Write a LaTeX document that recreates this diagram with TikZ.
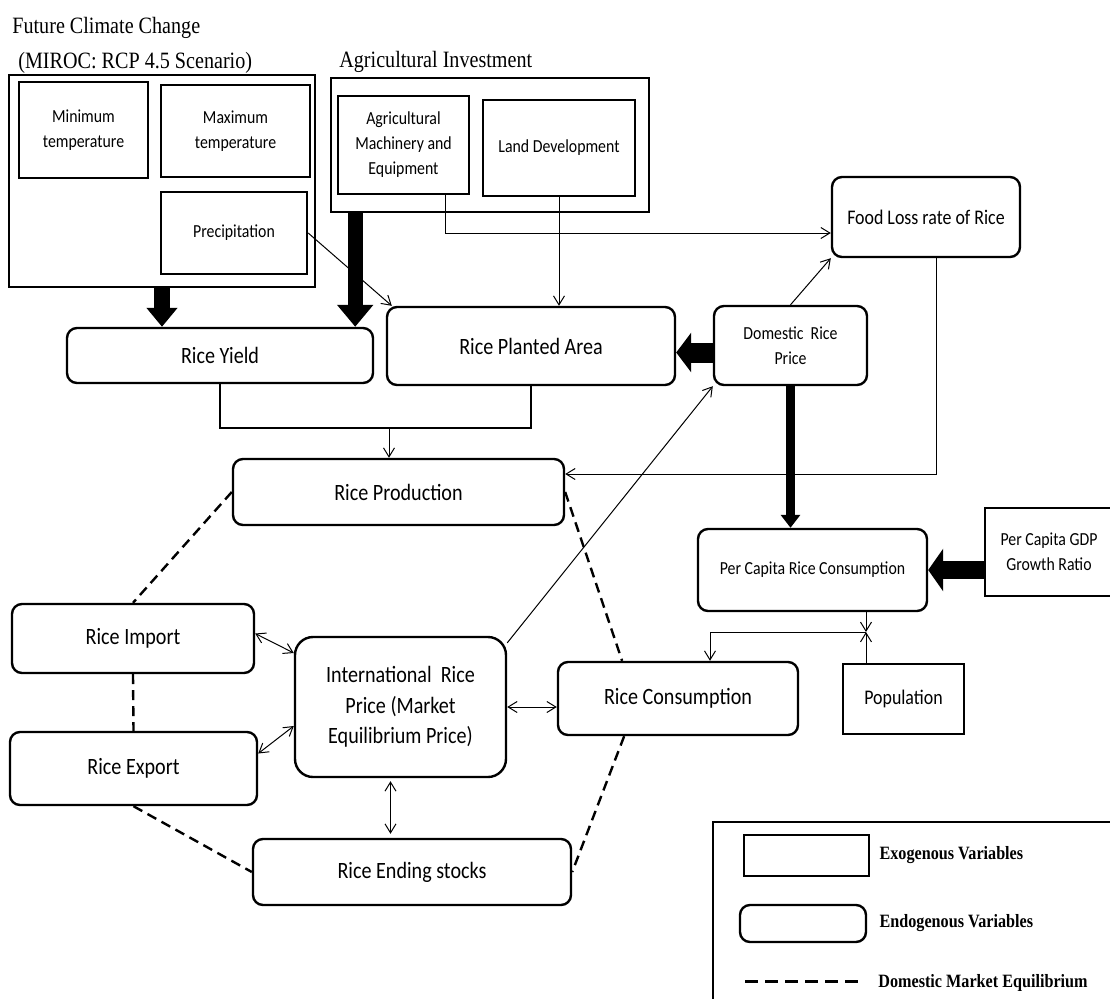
\documentclass[tikz,border=0pt]{standalone}
\usepackage{fontspec}
\setmainfont{Liberation Serif}[FakeStretch=0.86]
\newfontfamily\calfont{Carlito}[FakeStretch=0.86]
\usetikzlibrary{arrows.meta}

\begin{document}
\begin{tikzpicture}[x=0.5pt,y=-0.5pt,
	exo/.style={draw,line width=1.2pt,align=center,inner sep=2pt},
	endo/.style={exo,rounded corners=5pt},
	flow/.style={line width=0.5pt,-{Straight Barb[length=4.5pt,width=5.5pt]}},
	both/.style={line width=0.5pt,{Straight Barb[length=4.5pt,width=5.5pt]}-{Straight Barb[length=4.5pt,width=5.5pt]}},
	eq/.style={line width=1.2pt,dash pattern=on 5pt off 3pt},
	fat/.style n args={3}{line width=#1,-{Triangle[length=#2,width=#3]}}]
		\def\big{\calfont\fontsize{11.7}{15.2}\selectfont}
		\def\mid{\calfont\fontsize{10.4}{12.5}\selectfont}
		\def\small{\calfont\fontsize{9.2}{12.5}\selectfont}
		\useasboundingbox (0,0) rectangle (1110,998);

		\node[anchor=base west,inner sep=0,font=\fontsize{11.7}{14}\selectfont] (climt) at (12,33) {Future Climate Change};
		\node[anchor=base west,inner sep=0,font=\fontsize{11.7}{14}\selectfont] (miroc) at (18,68) {(MIROC: RCP 4.5 Scenario)};
		\node[anchor=base west,inner sep=0,font=\fontsize{11.7}{14}\selectfont] (agrit) at (339,67) {Agricultural Investment};

		\node[exo,minimum width=153pt,minimum height=106pt] (clim) at (162,181) {};
		\node[exo,minimum width=64.5pt,minimum height=48pt,font=\small] (mint) at (83.5,130) {Minimum\\temperature};
		\node[exo,minimum width=74.5pt,minimum height=46pt,font=\small] (maxt) at (235.5,131) {Maximum\\temperature};
		\node[exo,minimum width=73pt,minimum height=41pt,font=\small] (prec) at (234,233) {Precipitation};

		\node[exo,minimum width=159pt,minimum height=67pt] (agri) at (490,145) {};
		\node[exo,minimum width=65.5pt,minimum height=49pt,font=\small] (mach) at (403.5,145) {Agricultural\\Machinery and\\Equipment};
		\node[exo,minimum width=76pt,minimum height=48pt,font=\small] (land) at (559,148) {Land Development};

		\node[endo,minimum width=153pt,minimum height=27.5pt,font=\big] (yield) at (220,355.5) {Rice Yield};
		\node[endo,minimum width=144pt,minimum height=39pt,font=\big] (rpa) at (531,346) {Rice Planted Area};
		\node[endo,minimum width=76.5pt,minimum height=39.5pt,font=\small] (drp) at (790.5,345.5) {Domestic~ Rice\\Price};
		\node[endo,minimum width=94pt,minimum height=40pt,font=\mid] (food) at (926,217) {Food Loss rate of Rice};
		\node[endo,minimum width=165.5pt,minimum height=33pt,font=\big] (prod) at (398.5,492) {Rice Production};
		\node[endo,minimum width=114.5pt,minimum height=41pt,font=\small] (pcrc) at (812.5,570) {Per Capita Rice Consumption};
		\node[exo,minimum width=64pt,minimum height=44pt,font=\small] (gdp) at (1049,552) {Per Capita GDP\\Growth Ratio};
		\node[endo,minimum width=121pt,minimum height=34.5pt,font=\big] (import) at (133,638.5) {Rice Import};
		\node[endo,minimum width=123.5pt,minimum height=36.5pt,font=\big] (export) at (133.5,768.5) {Rice Export};
		\node[endo,rounded corners=9pt,minimum width=105.5pt,minimum height=70pt,font=\big] (intl) at (400.5,707) {International~ Rice\\Price (Market\\Equilibrium Price)};
		\node[endo,minimum width=120pt,minimum height=36.5pt,font=\big] (cons) at (678,698.5) {Rice Consumption};
		\node[exo,minimum width=60.5pt,minimum height=35pt,font=\mid] (pop) at (903.5,699) {Population};
		\node[endo,minimum width=159pt,minimum height=33pt,font=\big] (ending) at (412,872) {Rice Ending stocks};

		\coordinate (ya) at ([xshift=-9.5pt]yield.north east);
		\coordinate (da) at ([yshift=-3.5pt]drp.west);
		\draw[fat={8pt}{9.5pt}{15pt}] (clim.south) -- (clim.south |- yield.north);
		\draw[fat={7.5pt}{11pt}{17.5pt}] (ya |- agri.south) -- (ya);
		\draw[fat={10pt}{7.5pt}{19.5pt}] (da) -- (da -| rpa.east);
		\draw[fat={4.7pt}{6.5pt}{9.5pt}] (drp.south) -- (drp.south |- pcrc.north);
		\draw[fat={9pt}{7.5pt}{21pt}] (gdp.west |- pcrc.east) -- (pcrc.east);

		\coordinate (m1) at ([xshift=21pt]mach.south);
		\coordinate (f1) at ([xshift=5pt]food.south);
		\draw[flow] (prec.east) -- ([xshift=3pt]rpa.north west);
		\draw[flow] (m1) |- ([yshift=-8pt]food.west);
		\draw[flow] (land.south) -- (land.south |- rpa.north);
		\draw[flow] (drp.north) -- (food.south west);
		\draw[flow] (f1) |- ([yshift=9pt]prod.east);
		\draw[flow] (intl.31) -- (drp.south west);

		\coordinate (yj) at (389,428);
		\draw[line width=1.2pt] (yield.south) |- (yj) -| (rpa.south);
		\draw[flow] (yj) -- (yj |- prod.north);

		\draw[both] ([yshift=2.5pt]import.east) -- ([yshift=27pt]intl.west);
		\draw[both] ([yshift=7.5pt]export.east) -- ([yshift=-9.5pt]intl.west);
		\draw[both] (intl.east) -- (intl.east -| cons.west);
		\coordinate (is) at ([xshift=-5pt]intl.south);
		\draw[both,shorten <=1.5pt,shorten >=2pt] (is) -- (is |- ending.north);

		\coordinate (pj) at (866,632);
		\coordinate (cj) at (710,632);
		\draw[flow] (pcrc.south -| pj) -- (pj);
		\draw[flow] (pop.north -| pj) -- (pj);
		\draw[flow] (pj) -- (cj) -- (cj |- cons.north);

		\draw[eq] (prod.west) -- (import.north);
		\draw[eq] (import.south) -- (export.north);
		\draw[eq] (export.south) -- (ending.west);
		\draw[eq] (cons.215) -- (ending.east);
		\draw[eq] (prod.east) -- (cons.146);

		\draw[line width=1.2pt] (1116,822) -| (713,1010);
		\node[exo,minimum width=62.5pt,minimum height=20.5pt] (lexo) at (806.5,855.5) {};
		\node[endo,minimum width=63pt,minimum height=18.5pt] (lendo) at (803,923.5) {};
		\coordinate (ld1) at (745,981);
		\coordinate (ld2) at (862,981);
		\draw[line width=1.5pt,dash pattern=on 6.5pt off 3.5pt] (ld1) -- (ld2);
		\node[anchor=west,inner sep=0,font=\bfseries\fontsize{9.4}{12}\selectfont] (texo) at ([xshift=4.5pt]lexo.east) {Exogenous Variables};
		\node[anchor=west,inner sep=0,font=\bfseries\fontsize{9.4}{12}\selectfont] (tendo) at ([xshift=6pt]lendo.east) {Endogenous Variables};
		\node[anchor=west,inner sep=0,font=\bfseries\fontsize{9.4}{12}\selectfont] (teq) at ([xshift=8pt,yshift=-1pt]ld2) {Domestic Market Equilibrium};
\end{tikzpicture}
\end{document}
